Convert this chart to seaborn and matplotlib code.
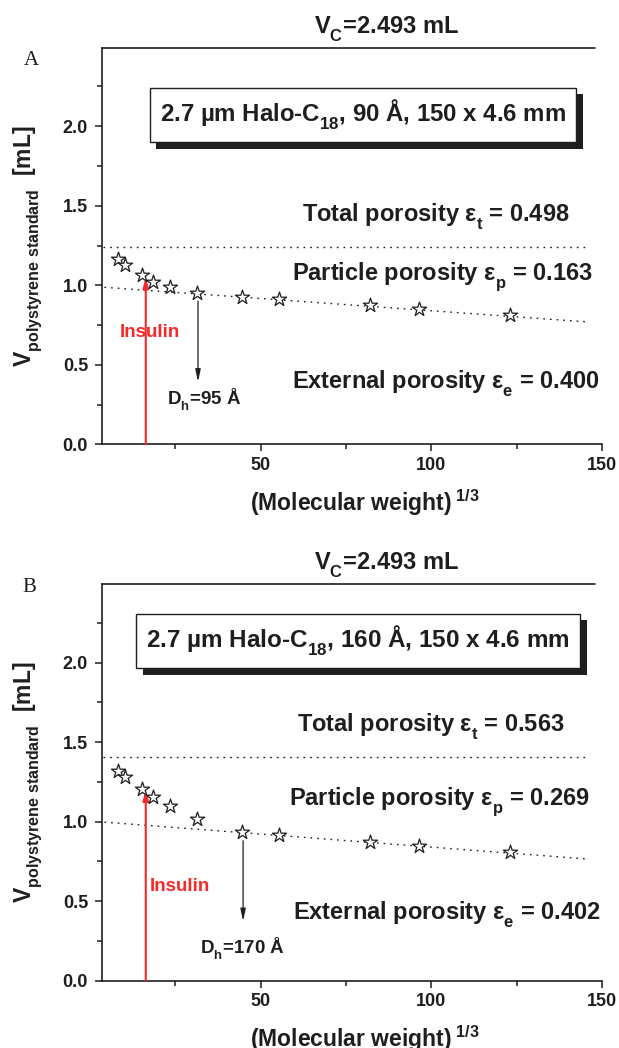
import matplotlib
matplotlib.use("Agg")
import matplotlib.pyplot as plt
import seaborn as sns
import numpy as np
import pandas as pd
from matplotlib.patches import Rectangle
import matplotlib._mathtext as _mt

# ---------------- data ----------------
panels = ["A", "B"]
vc = 2.493
mw_cuberoot = [8.4, 10.3, 15.4, 18.6, 23.5, 31.5, 44.7, 55.4, 82.2, 96.3, 123.1]
v_A = [1.163, 1.128, 1.065, 1.023, 0.987, 0.953, 0.928, 0.911, 0.876, 0.851, 0.813]
v_B = [1.318, 1.280, 1.205, 1.153, 1.101, 1.017, 0.932, 0.913, 0.871, 0.849, 0.808]
eps_t = [0.498, 0.563]
eps_p = [0.163, 0.269]
eps_e = [0.400, 0.402]
ext_intercept = [0.994, 1.004]
ext_slope = [-0.00154, -0.00164]
fit_x_range = [4.3, 146.3]
total_x_range = [4.0, 145.0]
pore_size = ["90", "160"]
dh_values = ["95", "170"]
dh_x = [31.7, 44.9]
dh_top = [0.90, 0.88]
dh_tip = [0.394, 0.375]
insulin_x = 16.4
insulin_top = [1.05, 1.20]
xticks_major = [50, 100, 150]
xticks_minor = [25, 75, 125]
yticks_major = [0.0, 0.5, 1.0, 1.5, 2.0]
yticks_minor = [0.25, 0.75, 1.25, 1.75, 2.25]
x_limits = [3.5, 150]

# ---------------- style ----------------
sns.set_theme(style="ticks")
plt.rcParams["font.family"] = ["Liberation Sans", "DejaVu Sans"]
plt.rcParams["font.weight"] = "bold"
plt.rcParams["mathtext.fontset"] = "custom"
plt.rcParams["mathtext.rm"] = "Liberation Sans:bold"
plt.rcParams["mathtext.bf"] = "Liberation Sans:bold"
plt.rcParams["mathtext.it"] = "Liberation Sans:bold"
plt.rcParams["mathtext.sf"] = "Liberation Sans:bold"
plt.rcParams["mathtext.default"] = "bf"
plt.rcParams["axes.linewidth"] = 1.2
# deeper subscripts, as in the original figure
try:
    _mt.FontConstantsBase.sub1 = 0.62
except Exception:
    pass

INK = "#1e1e1e"
RED = "#f42a2a"

fig = plt.figure(figsize=(6.19, 10.48), dpi=100)
axes = [fig.add_axes([0.1643, 0.5760, 0.8083, 0.3784]),
        fig.add_axes([0.1643, 0.0642, 0.8083, 0.3784])]

box_pos = [(80.0, 2.07), (78.6, 2.135)]
box_size = [17.3, 17.5]
total_pos = [(101.4, 1.401), (99.8, 1.565)]
part_pos = [(103.2, 1.032), (102.4, 1.104)]
ext_pos = [(104.4, 0.351), (104.6, 0.380)]
ins_txt = [(17.6, 0.677), (26.5, 0.564)]
dh_txt = [(33.6, 0.247), (44.8, 0.172)]
panel_lab = [(-0.14, 0.969), (-0.145, 0.992)]
box_texts = []

for i, ax in enumerate(axes):
    vs = [v_A, v_B][i]
    df = pd.DataFrame({"mw": mw_cuberoot, "v": vs})

    # total porosity line
    ty = eps_t[i] * vc
    sns.lineplot(x=total_x_range, y=[ty, ty], ax=ax, color=INK,
                 linestyle=(0, (1.2, 3.6)), lw=1.0, zorder=2)
    # external porosity fit line
    fx = np.array(fit_x_range)
    fy = ext_intercept[i] + ext_slope[i] * fx
    sns.lineplot(x=fx, y=fy, ax=ax, color=INK,
                 linestyle=(0, (1.2, 3.6)), lw=1.0, zorder=2)

    # insulin arrow
    ax.annotate("", xy=(insulin_x, insulin_top[i]), xytext=(insulin_x, 0.0),
                arrowprops=dict(arrowstyle="-|>,head_length=0.5,head_width=0.14",
                                color=RED, lw=1.5, mutation_scale=12,
                                shrinkA=0, shrinkB=0), zorder=3)
    # Dh arrow
    ax.annotate("", xy=(dh_x[i], dh_tip[i]), xytext=(dh_x[i], dh_top[i]),
                arrowprops=dict(arrowstyle="-|>,head_length=0.6,head_width=0.13",
                                color=INK, lw=0.9, mutation_scale=12,
                                shrinkA=0, shrinkB=0), zorder=3)

    # stars
    sns.scatterplot(data=df, x="mw", y="v", ax=ax, marker="*", s=115,
                    color="white", edgecolor=INK, linewidth=0.9,
                    legend=False, zorder=4)

    # texts
    ax.text(*ins_txt[i], "Insulin", color=RED, fontsize=13.5,
            fontweight="bold", ha="center", va="baseline", zorder=5)
    ax.text(*dh_txt[i], "D$_h$=" + dh_values[i] + " Å", color=INK,
            fontsize=13.5, fontweight="bold", ha="center", va="baseline")
    ax.text(*total_pos[i], "Total porosity $ε_t$ = %.3f" % eps_t[i], color=INK,
            fontsize=17, ha="center", va="baseline")
    ax.text(*part_pos[i], "Particle porosity $ε_p$ = %.3f" % eps_p[i], color=INK,
            fontsize=17, ha="center", va="baseline")
    ax.text(*ext_pos[i], "External porosity $ε_e$ = %.3f" % eps_e[i], color=INK,
            fontsize=17, ha="center", va="baseline")

    # column box (shadow added after layout)
    btxt = "2.7 µm Halo-C$_{18}$, " + pore_size[i] + " Å, 150 x 4.6 mm"
    t = ax.text(*box_pos[i], btxt, ha="center", va="center", fontsize=box_size[i],
                color=INK, zorder=7,
                bbox=dict(boxstyle="square,pad=0.42", fc="white", ec=INK, lw=1.0))
    box_texts.append((ax, t))

    # title
    ax.text(0.57, 1.036, "V$_C$=%.3f mL" % vc, transform=ax.transAxes,
            ha="center", va="baseline", fontsize=17, color=INK)
    # panel letter
    ax.text(*panel_lab[i], panels[i], transform=ax.transAxes, ha="center",
            va="center", fontsize=15, fontweight="normal",
            family=["Liberation Serif", "DejaVu Serif"], color=INK)

    # axes
    ax.set_xlim(*x_limits)
    ax.set_ylim(0, vc)
    ax.set_xticks(xticks_major)
    ax.set_xticks(xticks_minor, minor=True)
    ax.set_yticks(yticks_major)
    ax.set_yticks(yticks_minor, minor=True)
    ax.set_yticklabels(["%.1f" % v for v in yticks_major])
    ax.tick_params(axis="both", which="major", direction="out", length=5.3,
                   width=1.1, labelsize=13, colors=INK)
    ax.tick_params(axis="both", which="minor", direction="out", length=3.3,
                   width=1.1, colors=INK)
    ax.tick_params(axis="x", which="major", pad=3.5)
    ax.tick_params(axis="y", which="major", pad=4.5)
    for lab in ax.get_xticklabels() + ax.get_yticklabels():
        lab.set_fontweight("bold")
    for s in ["top", "right"]:
        ax.spines[s].set_visible(False)
    for s in ["left", "bottom"]:
        ax.spines[s].set_color(INK)
    ax.axhline(vc, xmin=0, xmax=0.986, color=INK, lw=1.2, clip_on=False)

    ax.set_xlabel("(Molecular weight)$^{\\ 1/3}$", fontsize=16.5, color=INK,
                  fontweight="bold")
    ax.xaxis.set_label_coords(0.525, -0.108)
    ax.set_ylabel("V$_{polystyrene\\ standard}$  [mL]", fontsize=16.5,
                  color=INK, fontweight="bold")
    ax.yaxis.set_label_coords(-0.115, 0.5)
    ax.grid(False)

# drop shadows behind the column boxes
fig.canvas.draw()
off = 6.5  # pixels
for ax, t in box_texts:
    bb = t.get_bbox_patch().get_window_extent()
    inv = ax.transAxes.inverted()
    (x0, y0) = inv.transform((bb.x0 + off, bb.y0 - off))
    (x1, y1) = inv.transform((bb.x1 + off, bb.y1 - off))
    ax.add_patch(Rectangle((x0, y0), x1 - x0, y1 - y0, transform=ax.transAxes,
                           fc=INK, ec=INK, lw=0, zorder=6, clip_on=False))

fig.savefig("out.png", dpi=100)
